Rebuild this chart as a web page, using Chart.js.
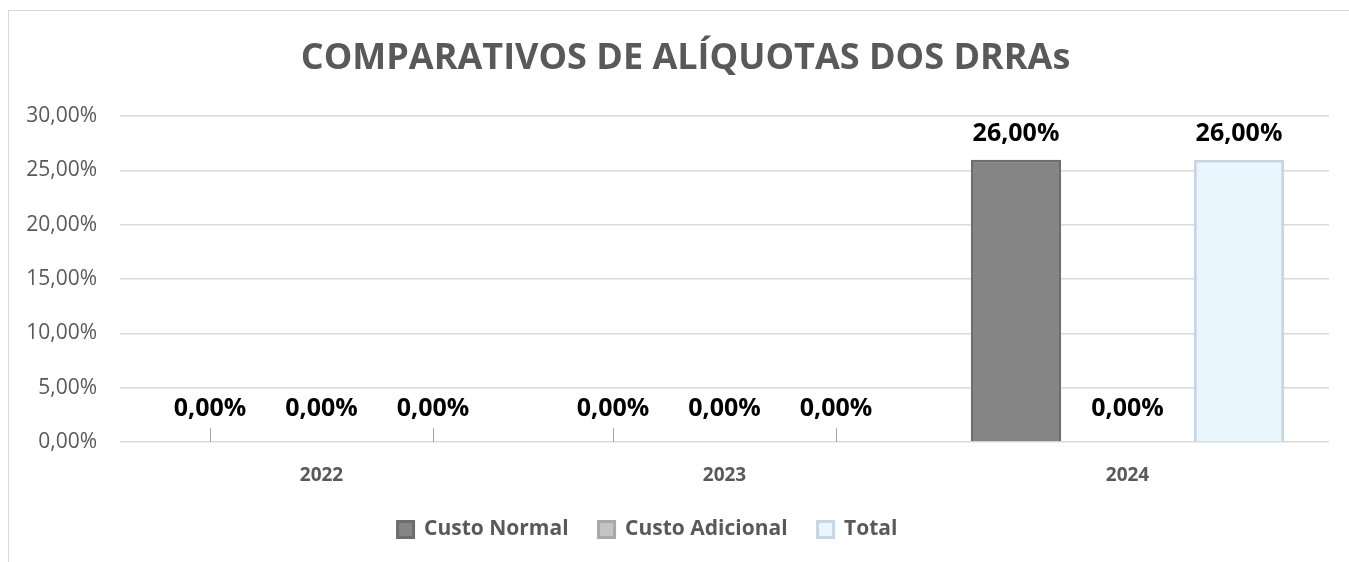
<!DOCTYPE html>
<html lang="pt-BR">
<head>
    <meta charset="UTF-8">
    <title>Comparativos de Alíquotas dos DRRAs</title>
    <script src="https://cdn.jsdelivr.net/npm/chart.js"></script>
    <style>
        html, body { margin: 0; padding: 0; background: #fff; overflow: hidden; }
        #frame { position: absolute; left: 8px; top: 10px; width: 1400px; height: 600px; border: 1px solid #d9d9d9; }
        #chart { position: absolute; left: 0; top: 0; }
    </style>
</head>
<body>
    <div id="frame"></div>
    <canvas id="chart" width="1349" height="562"></canvas>

    <script>
        // dados (em %)
        const years = ['2022', '2023', '2024'];
        const custoNormal = [0, 0, 26];
        const custoAdicional = [0, 0, 0];
        const total = [0, 0, 26];
        const yTicks = [0, 5, 10, 15, 20, 25, 30];

        const fmt = v => v.toFixed(2).replace('.', ',') + '%';
        const grey = '#595959';

        // rótulos de dados acima das barras + pequenos traços das barras zeradas
        const labelsPlugin = {
            id: 'barLabels',
            afterLayout(chart) {
                // título um pouco à direita, legenda um pouco à esquerda (como no Excel)
                chart.titleBlock.left += 42;
                chart.legend.right -= 34;
            },
            afterDatasetsDraw(chart) {
                const ctx = chart.ctx;
                ctx.save();
                chart.data.datasets.forEach((ds, i) => {
                    const meta = chart.getDatasetMeta(i);
                    meta.data.forEach((bar, j) => {
                        const v = ds.data[j];
                        if (v === 0 && i !== 1) {
                            ctx.strokeStyle = '#a6a6a6';
                            ctx.lineWidth = 1;
                            ctx.beginPath();
                            ctx.moveTo(Math.round(bar.x) + 0.5, bar.y - 14);
                            ctx.lineTo(Math.round(bar.x) + 0.5, bar.y);
                            ctx.stroke();
                        }
                        ctx.fillStyle = '#000';
                        ctx.font = 'bold 25px "Open Sans"';
                        ctx.textAlign = 'center';
                        ctx.textBaseline = 'middle';
                        ctx.fillText(fmt(v), bar.x, bar.y - (v === 0 ? 33 : 26));
                    });
                });
                ctx.restore();
            }
        };

        new Chart(document.getElementById('chart'), {
            type: 'bar',
            data: {
                labels: years,
                datasets: [
                    {
                        label: 'Custo Normal',
                        data: custoNormal,
                        backgroundColor: '#858585',
                        borderColor: '#6e6e6e',
                        borderWidth: 3
                    },
                    {
                        label: 'Custo Adicional',
                        data: custoAdicional,
                        backgroundColor: '#c4c4c4',
                        borderColor: '#a8a8a8',
                        borderWidth: 3
                    },
                    {
                        label: 'Total',
                        data: total,
                        backgroundColor: '#eaf6fe',
                        borderColor: '#c6d6e4',
                        borderWidth: 3
                    }
                ]
            },
            options: {
                responsive: false,
                animation: false,
                categoryPercentage: 0.83,
                barPercentage: 0.81,
                layout: { padding: { left: 0, right: 20, top: 0, bottom: 12 } },
                scales: {
                    y: {
                        min: 0,
                        max: 30,
                        afterBuildTicks: scale => { scale.ticks = yTicks.map(v => ({ value: v })); },
                        afterFit: scale => { scale.width = 120; },
                        border: { display: false },
                        grid: { color: '#d9d9d9', lineWidth: 1.5, drawTicks: false },
                        ticks: {
                            padding: 23,
                            color: grey,
                            font: { family: 'Open Sans', size: 21 },
                            callback: v => fmt(v)
                        }
                    },
                    x: {
                        afterFit: scale => { scale.height = 47; },
                        border: { display: false },
                        grid: { display: false, drawTicks: false },
                        ticks: {
                            padding: 22,
                            color: grey,
                            font: { family: 'Open Sans', size: 19, weight: 'bold' }
                        }
                    }
                },
                plugins: {
                    title: {
                        display: true,
                        text: 'COMPARATIVOS DE ALÍQUOTAS DOS DRRAs',
                        color: grey,
                        font: { family: 'Open Sans', size: 36, weight: 'bold' },
                        padding: { top: 37, bottom: 36 }
                    },
                    legend: {
                        position: 'bottom',
                        labels: {
                            color: grey,
                            boxWidth: 16,
                            boxHeight: 16,
                            padding: 30,
                            font: { family: 'Open Sans', size: 21, weight: 'bold' }
                        }
                    },
                    tooltip: { enabled: false }
                }
            },
            plugins: [labelsPlugin]
        });
    </script>
</body>
</html>
